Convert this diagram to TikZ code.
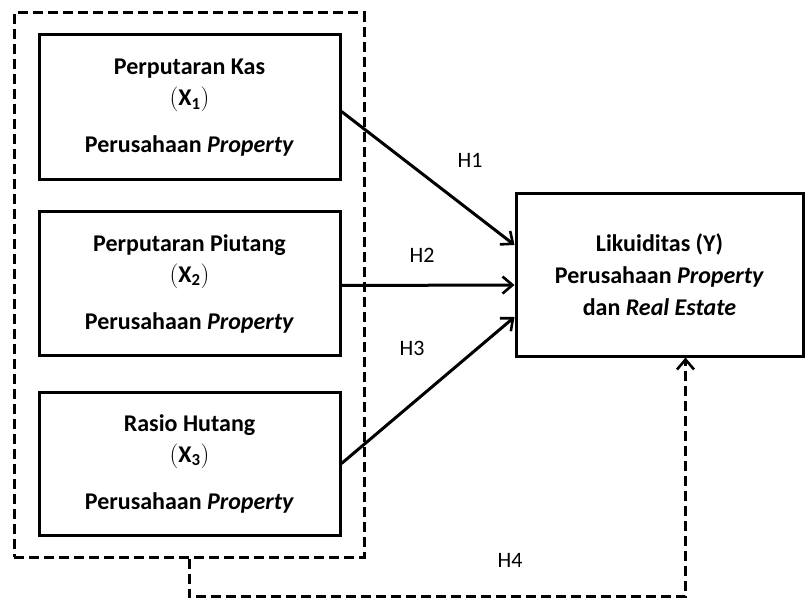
\documentclass[tikz,border=0pt]{standalone}
\usepackage{fontspec}
\setmainfont{Carlito}
\usetikzlibrary{arrows.meta, positioning}

\begin{document}
\begin{tikzpicture}[
    x=1pt, y=1pt,
    box/.style={draw=black, line width=3pt, minimum width=301pt, align=center, font=\fontsize{24}{28}\selectfont\bfseries},
    grpbox/.style={draw=black, line width=3pt, dash pattern=on 10pt off 5pt, minimum width=350pt, minimum height=544pt},
    lbl/.style={font=\fontsize{22}{26}\selectfont},
    arr/.style={line width=3pt, -{Straight Barb[length=10pt, width=17pt, line width=2.6pt]}}
]

\useasboundingbox (0,0) rectangle (805,598);

% Dashed group round the three X boxes
\node[grpbox] (grp) at (189,313) {};

% Independent variables
\node[box, minimum height=145pt] (x1) at (189.5,490.5) {Perputaran Kas\\[3pt]$\mathbf{(X_1)}$\\[19pt]Perusahaan \textit{Property}};
\node[box, minimum height=143pt] (x2) at (189.5,314.5) {Perputaran Piutang\\[3pt]$\mathbf{(X_2)}$\\[19pt]Perusahaan \textit{Property}};
\node[box, minimum height=143pt] (x3) at (189.5,134.5) {Rasio Hutang\\[3pt]$\mathbf{(X_3)}$\\[19pt]Perusahaan \textit{Property}};

% Dependent variable
\node[box, minimum width=287pt, minimum height=162pt, font=\fontsize{24}{32}\selectfont\bfseries] (yv) at (659.5,323) {Likuiditas (Y)\\Perusahaan \textit{Property}\\dan \textit{Real Estate}};

% Hypotheses
\draw[arr] ([yshift=-4pt]x1.east) -- ([yshift=30pt]yv.west);
\draw[arr] ([yshift=-2pt]x2.east) -- ([yshift=-10pt]yv.west);
\draw[arr] (x3.east) -- ([yshift=-42pt]yv.west);

% H4 from the group
\coordinate (h4end) at ([xshift=26pt]yv.south);
\draw[arr, dash pattern=on 10pt off 5pt] (grp.south) -- ++(0,-38) -| (h4end);

\node[lbl] (h1) at (470,438) {H1};
\node[lbl] (h2) at (422,343) {H2};
\node[lbl] (h3) at (412,250) {H3};
\node[lbl] (h4) at (510,38) {H4};

\end{tikzpicture}
\end{document}
